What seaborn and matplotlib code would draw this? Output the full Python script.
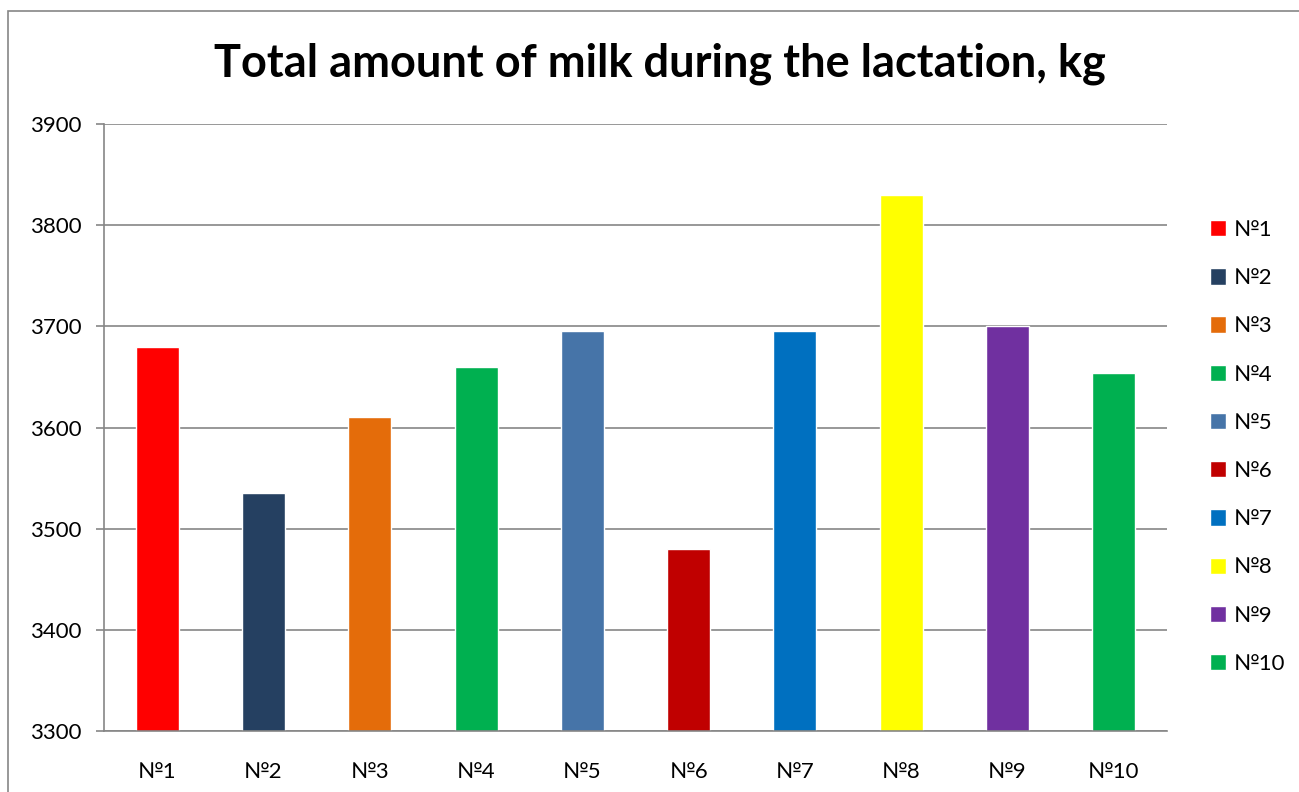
import numpy as np
import pandas as pd
import matplotlib.pyplot as plt
import seaborn as sns
from matplotlib.patches import Rectangle

# Data
cows = ['№1', '№2', '№3', '№4', '№5', '№6', '№7', '№8', '№9', '№10']
milk_kg = [3680, 3535, 3610, 3660, 3695, 3480, 3695, 3830, 3700, 3654]
bar_colors = ['#FF0000', '#254061', '#E46C0A', '#00B050', '#4674A8',
              '#C00000', '#0070C0', '#FFFF00', '#7030A0', '#00B050']

df = pd.DataFrame({'Cow': cows, 'Milk': milk_kg})

sns.set_style('white')
plt.rcParams['font.family'] = ['Lato', 'DejaVu Sans']
plt.rcParams['text.color'] = 'black'

grey = '#868686'

fig = plt.figure(figsize=(12.99, 7.92), dpi=100)
ax = fig.add_axes([104 / 1299, 1 - 731 / 792, (1167 - 104) / 1299, (731 - 124) / 792])

sns.barplot(x='Cow', y='Milk', hue='Cow', data=df, palette=bar_colors,
            dodge=False, width=0.405, legend=True, ax=ax, saturation=1)

ax.set_ylim(3300, 3900)
ax.set_xlim(-0.5, len(cows) - 0.5)
ax.set_yticks(np.arange(3300, 3901, 100))
ax.yaxis.grid(True, color=grey, linewidth=1.2)
ax.set_axisbelow(True)
ax.set_xlabel('')
ax.set_ylabel('')

for side in ['top', 'right']:
    ax.spines[side].set_visible(False)
for side in ['left', 'bottom']:
    ax.spines[side].set_color(grey)
    ax.spines[side].set_linewidth(1.2)

# category boundary ticks below the x axis
ax.set_xticks(np.arange(-0.5, len(cows), 1.0), minor=True)
ax.tick_params(axis='x', which='major', length=0, pad=22, labelsize=16,
               labelcolor='black')
ax.tick_params(axis='x', which='minor', length=6, width=1.2, color=grey, direction='out')
ax.tick_params(axis='y', which='major', length=6, width=1.2, color=grey,
               direction='out', left=True, pad=10, labelsize=16, labelcolor='black')

ax.set_title('Total amount of milk during the lactation, kg', fontsize=32.5,
             fontweight='bold', pad=34, color='black', x=0.523)

leg = ax.legend(loc='upper left', bbox_to_anchor=(1.04, 0.842), frameon=False,
                fontsize=16, handlelength=0.75, handleheight=0.75,
                labelspacing=1.27, handletextpad=0.35,
                borderaxespad=0, borderpad=0)
for t in leg.get_texts():
    t.set_color('black')

# outer chart border (cut off on the right and bottom)
fig.patches.append(Rectangle((8 / 1299, -0.1), 1.2, 1 - 11 / 792 + 0.1,
                             transform=fig.transFigure, fill=False,
                             edgecolor=grey, linewidth=1.2))

fig.savefig('out.png', dpi=100)
